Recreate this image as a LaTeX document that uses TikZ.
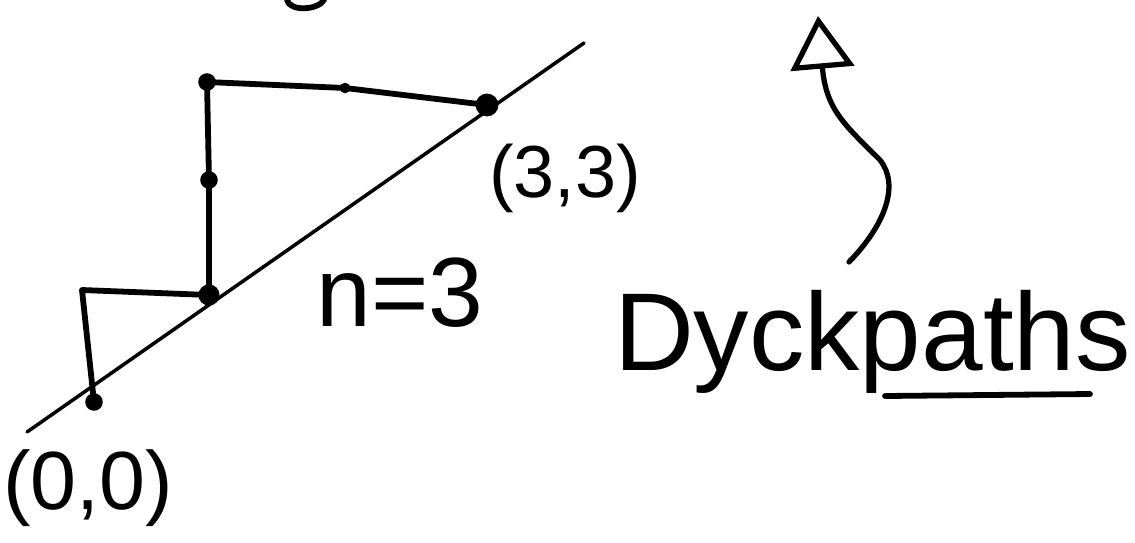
\documentclass[tikz,border=0pt]{standalone}
\usepackage{fontspec}
\setmainfont{Liberation Sans}
\usepackage{tikz}
\usetikzlibrary{positioning, arrows.meta}
\tikzset{
	diagonal/.style={black, line width=2pt, line cap=round},
	dyckstep/.style={black, line width=3.3pt, line cap=round, line join=round},
	hand/.style={inner sep=0pt, outer sep=0pt, text=black},
	pointer/.style={black, line width=3pt, line cap=round, line join=round,
		-{Triangle[open, length=30pt, width=36pt, line width=3pt]}}
}

\begin{document}
\begin{tikzpicture}[x=0.02cm, y=-0.02cm]
\useasboundingbox (0,0) rectangle (1135,542);
\coordinate (l0) at (27,432);
\coordinate (l1) at (584,43);
\coordinate (o) at (94,402);
\coordinate (a) at (82,290);
\coordinate (b) at (209,295);
\coordinate (c) at (209,180);
\coordinate (d) at (207,82);
\coordinate (e) at (345,88);
\coordinate (f) at (487,105);
\draw [diagonal] (l0) -- (l1);
\draw [dyckstep] (o) -- (a) -- (b) -- (c) -- (d) -- (e) -- (f);
\foreach \p/\r in {o/5pt, b/6pt, c/5pt, d/5pt, e/3pt, f/6.5pt}
	\fill (\p) circle (\r);
% cut off stroke at the top
\draw [dyckstep] (287,0) .. controls (290,12) and (318,10) .. (324,0);
\node [hand, font=\fontsize{47}{47}\selectfont] (start) at (88,488) {(0,0)};
\node [hand, font=\fontsize{42}{42}\selectfont] (end) at (565,178) {(3,3)};
\node [hand, font=\fontsize{56}{56}\selectfont, anchor=base] (size) at (400,326) {n=3};
\node [hand, font=\fontsize{63}{63}\selectfont, anchor=base west] (words) at (614,370) {Dyckpaths};
% line under paths
\draw [dyckstep] (885,396) -- (1090,394);
\coordinate (tail) at (849,262);
\coordinate (head) at (818,16);
\draw [pointer] (tail) .. controls (885,225) and (900,185) .. (880,160)
	.. controls (845,125) and (826,110) .. (head);
\end{tikzpicture}
\end{document}
